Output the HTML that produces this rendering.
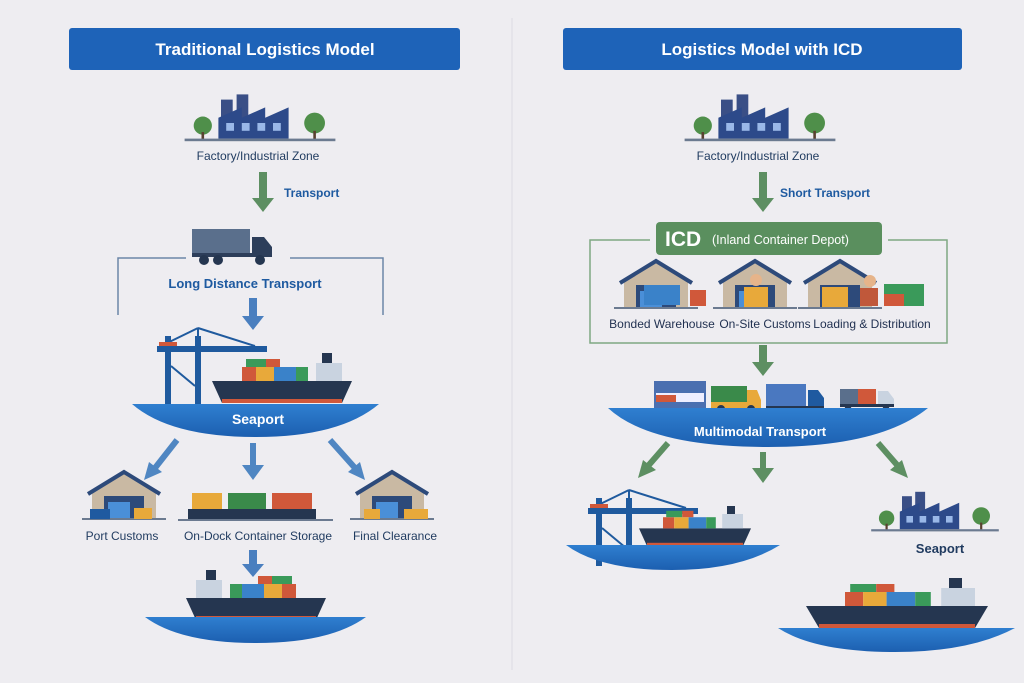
<!DOCTYPE html>
<html><head><meta charset="utf-8"><style>
html,body{margin:0;padding:0;background:#eeedf1;}
svg{display:block}
text{font-family:"Liberation Sans",sans-serif;}
</style></head><body>
<svg width="1024" height="683" viewBox="0 0 1024 683" xmlns="http://www.w3.org/2000/svg">
<defs>
<linearGradient id="wat" x1="0" y1="0" x2="0" y2="1"><stop offset="0" stop-color="#2f7fd0"/><stop offset="1" stop-color="#1c5fb0"/></linearGradient>
<g id="factory">
 <rect x="-30" y="-28" width="9" height="26" fill="#3a4f86"/>
 <rect x="-18" y="-32" width="9" height="30" fill="#3a4f86"/>
 <path d="M-32 2 V-14 L-14 -22 V-14 L4 -22 V-14 L22 -22 V2 Z" fill="#2d4a8a"/>
 <rect x="-26" y="-10" width="6" height="6" fill="#9ab8e8"/><rect x="-14" y="-10" width="6" height="6" fill="#9ab8e8"/><rect x="-2" y="-10" width="6" height="6" fill="#9ab8e8"/><rect x="10" y="-10" width="6" height="6" fill="#9ab8e8"/>
 <circle cx="-44" cy="-8" r="7" fill="#4f8f4a"/><rect x="-45" y="-3" width="2" height="6" fill="#5a4030"/>
 <circle cx="42" cy="-10" r="8" fill="#4f8f4a"/><rect x="41" y="-4" width="2" height="7" fill="#5a4030"/>
 <rect x="-58" y="2" width="116" height="2" fill="#6b7a90"/>
</g>
<g id="wh">
 <path d="M-32 -16 L0 -34 L32 -16 V10 H-32 Z" fill="#c9b9a3"/>
 <path d="M-36 -14 L0 -36 L36 -14" fill="none" stroke="#2d4a7a" stroke-width="4"/>
 <rect x="-20" y="-12" width="40" height="22" fill="#2d4a7a"/>
 <rect x="-16" y="-6" width="22" height="16" fill="#4a8fd8"/>
 <rect x="-42" y="10" width="84" height="2" fill="#6b7a90"/>
</g>
<g id="ship">
 <path d="M-70 -12 H70 L60 10 H-60 Z" fill="#253650"/>
 <rect x="-60" y="6" width="120" height="4" fill="#d0583a"/>
 <rect x="-40" y="-26" width="14" height="14" fill="#d0583a"/><rect x="-26" y="-26" width="18" height="14" fill="#e8a93a"/><rect x="-8" y="-26" width="22" height="14" fill="#3a82c9"/><rect x="14" y="-26" width="12" height="14" fill="#3a9a5a"/>
 <rect x="-36" y="-34" width="20" height="8" fill="#3a9a5a"/><rect x="-16" y="-34" width="14" height="8" fill="#d0583a"/>
 <rect x="34" y="-30" width="26" height="18" fill="#c9d3e0"/><rect x="40" y="-40" width="10" height="10" fill="#253650"/>
</g>
<g id="crane">
 <rect x="0" y="0" width="6" height="68" fill="#1f5a9e"/><rect x="30" y="0" width="6" height="68" fill="#1f5a9e"/>
 <rect x="-8" y="10" width="110" height="6" fill="#1f5a9e"/>
 <path d="M33 10 L33 -8 M33 -8 L-4 10 M33 -8 L90 10" stroke="#1f5a9e" stroke-width="2" fill="none"/>
 <line x1="6" y1="30" x2="30" y2="50" stroke="#1f5a9e" stroke-width="2"/>
 <rect x="-6" y="6" width="18" height="4" fill="#d0583a"/>
</g>
<g id="truck">
 <rect x="0" y="0" width="40" height="22" fill="#4a78c0"/>
 <path d="M42 6 H52 L58 14 V22 H42 Z" fill="#1f5aa0"/>
 <rect x="0" y="22" width="58" height="4" fill="#253650"/>
 <circle cx="10" cy="28" r="4" fill="#253650"/><circle cx="46" cy="28" r="4" fill="#253650"/>
</g>
</defs>

<line x1="512" y1="18" x2="512" y2="670" stroke="#dcdbe2" stroke-width="1"/>

<rect x="69" y="28" width="391" height="42" rx="3" fill="#1e63b8"/>
<text x="265" y="55" text-anchor="middle" fill="#fff" font-size="17" font-weight="bold">Traditional Logistics Model</text>
<rect x="563" y="28" width="399" height="42" rx="3" fill="#1e63b8"/>
<text x="762" y="55" text-anchor="middle" fill="#fff" font-size="17" font-weight="bold">Logistics Model with ICD</text>

<!-- LEFT -->
<g transform="translate(260,136) scale(1.3)"><use href="#factory"/></g>
<text x="258" y="160" text-anchor="middle" fill="#1f3a5f" font-size="12">Factory/Industrial Zone</text>
<path d="M259 172 H267 V198 H274 L263 212 L252 198 H259 Z" fill="#5d8f62"/>
<text x="284" y="197" fill="#1e5aa0" font-size="12" font-weight="bold">Transport</text>
<g transform="translate(192,229)"><rect x="0" y="0" width="58" height="24" fill="#5a6f8c"/><path d="M60 8 H72 L80 18 V28 H60 Z" fill="#2d3e5a"/><rect x="0" y="24" width="80" height="4" fill="#2d3e5a"/><circle cx="12" cy="31" r="5" fill="#253650"/><circle cx="26" cy="31" r="5" fill="#253650"/><circle cx="68" cy="31" r="5" fill="#253650"/></g>
<path d="M118 315 V258 H186 M290 258 H383 V315" fill="none" stroke="#6b86a8" stroke-width="1.5"/>
<text x="245" y="288" text-anchor="middle" fill="#1e5aa0" font-size="13" font-weight="bold">Long Distance Transport</text>
<path d="M249 298 H257 V316 H264 L253 330 L242 316 H249 Z" fill="#4a7fbf"/>
<use href="#crane" x="165" y="336"/>
<use href="#ship" x="282" y="393"/>
<path d="M132 404 H379 Q340 437 256 437 Q170 437 132 404 Z" fill="url(#wat)"/>
<text x="258" y="424" text-anchor="middle" fill="#fff" font-size="14" font-weight="bold">Seaport</text>
<g stroke="#4f86c2" stroke-width="6" fill="none"><line x1="177" y1="440" x2="155" y2="468"/><line x1="253" y1="443" x2="253" y2="468"/><line x1="330" y1="440" x2="355" y2="468"/></g>
<g fill="#4f86c2"><path d="M144 480 L149 462 L162 472 Z"/><path d="M242 465 H264 L253 480 Z"/><path d="M365 480 L348 472 L360 462 Z"/></g>
<use href="#wh" x="124" y="508"/>
<rect x="90" y="509" width="20" height="10" fill="#1f5aa0"/><rect x="134" y="508" width="18" height="11" fill="#e8a93a"/>
<g transform="translate(178,493)"><rect x="14" y="0" width="30" height="16" fill="#e8a93a"/><rect x="50" y="0" width="38" height="16" fill="#3a8a4a"/><rect x="94" y="0" width="40" height="16" fill="#d0583a"/><rect x="10" y="16" width="128" height="10" fill="#253650"/><rect x="0" y="26" width="155" height="2" fill="#6b7a90"/></g>
<use href="#wh" x="392" y="508"/>
<rect x="364" y="509" width="16" height="10" fill="#e8a93a"/><rect x="404" y="509" width="24" height="10" fill="#e8a93a"/>
<g fill="#1f3a5f" font-size="12" text-anchor="middle"><text x="122" y="540">Port Customs</text><text x="258" y="540">On-Dock Container Storage</text><text x="395" y="540">Final Clearance</text></g>
<path d="M249 550 H257 V564 H264 L253 577 L242 564 H249 Z" fill="#4a7fbf"/>
<g transform="translate(256,610) scale(-1,1)"><use href="#ship"/></g>
<path d="M145 617 H366 Q330 643 256 643 Q180 643 145 617 Z" fill="url(#wat)"/>

<!-- RIGHT -->
<g transform="translate(760,136) scale(1.3)"><use href="#factory"/></g>
<text x="758" y="160" text-anchor="middle" fill="#1f3a5f" font-size="12">Factory/Industrial Zone</text>
<path d="M759 172 H767 V198 H774 L763 212 L752 198 H759 Z" fill="#5d8f62"/>
<text x="780" y="197" fill="#1e5aa0" font-size="12" font-weight="bold">Short Transport</text>
<path d="M650 240 H590 V343 H947 V240 H888" fill="none" stroke="#7fa883" stroke-width="1.5"/>
<rect x="656" y="222" width="226" height="33" rx="4" fill="#5a8f5e"/>
<text x="665" y="246" fill="#fff" font-size="21" font-weight="bold">ICD</text>
<text x="712" y="244" fill="#fff" font-size="12.5">(Inland Container Depot)</text>
<g transform="translate(656,297)"><use href="#wh"/></g>
<rect x="644" y="285" width="36" height="20" fill="#3a82c9"/><rect x="690" y="290" width="16" height="16" fill="#d0583a"/>
<g transform="translate(755,297)"><use href="#wh"/></g>
<rect x="744" y="287" width="24" height="20" fill="#e8a93a"/><circle cx="756" cy="280" r="6" fill="#e6b48a"/>
<g transform="translate(840,297)"><use href="#wh"/></g>
<rect x="822" y="287" width="26" height="20" fill="#e8a93a"/><rect x="860" y="288" width="18" height="18" fill="#c0583a"/><circle cx="870" cy="281" r="6" fill="#e6b48a"/>
<rect x="884" y="284" width="40" height="22" fill="#3a9a5a"/><rect x="884" y="294" width="20" height="12" fill="#d0583a"/>
<g fill="#1f2f4f" font-size="12" text-anchor="middle"><text x="662" y="328">Bonded Warehouse</text><text x="765" y="328">On-Site Customs</text><text x="872" y="328">Loading &amp; Distribution</text></g>
<path d="M759 345 H767 V362 H774 L763 376 L752 362 H759 Z" fill="#5d8f62"/>
<rect x="654" y="381" width="52" height="27" fill="#4a6fb0"/><rect x="656" y="393" width="48" height="9" fill="#eef" /><rect x="656" y="395" width="20" height="7" fill="#d0583a"/>
<g transform="translate(711,386)"><rect x="0" y="0" width="36" height="16" fill="#3a8a4a"/><path d="M36 4 H46 L50 14 V22 H36 Z" fill="#e8a93a"/><rect x="0" y="16" width="50" height="6" fill="#e8a93a"/><circle cx="10" cy="23" r="4" fill="#253650"/><circle cx="40" cy="23" r="4" fill="#253650"/></g>
<use href="#truck" x="766" y="384"/>
<g transform="translate(840,389)"><rect x="0" y="0" width="36" height="15" fill="#5a6f8c"/><rect x="18" y="0" width="18" height="15" fill="#d0583a"/><path d="M38 2 H48 L54 10 V17 H38 Z" fill="#c9d3e0"/><rect x="0" y="15" width="54" height="3" fill="#253650"/><circle cx="8" cy="20" r="3.5" fill="#253650"/><circle cx="46" cy="20" r="3.5" fill="#253650"/></g>
<path d="M608 408 H928 Q880 447 768 447 Q650 447 608 408 Z" fill="url(#wat)"/>
<text x="760" y="436" text-anchor="middle" fill="#fff" font-size="13" font-weight="bold">Multimodal Transport</text>
<g stroke="#5d8f62" stroke-width="6" fill="none"><line x1="668" y1="443" x2="648" y2="466"/><line x1="763" y1="452" x2="763" y2="470"/><line x1="878" y1="443" x2="898" y2="466"/></g>
<g fill="#5d8f62"><path d="M638 478 L643 460 L656 470 Z"/><path d="M752 468 H774 L763 483 Z"/><path d="M908 478 L890 470 L902 460 Z"/></g>
<use href="#crane" x="596" y="498"/>
<g transform="translate(695,538) scale(0.8)"><use href="#ship"/></g>
<path d="M566 545 H780 Q740 570 672 570 Q600 570 566 545 Z" fill="url(#wat)"/>
<g transform="translate(935,527) scale(1.1)"><use href="#factory"/></g>
<text x="940" y="553" text-anchor="middle" fill="#1f3a5f" font-size="13" font-weight="bold">Seaport</text>
<g transform="translate(897,618) scale(1.3,1)"><use href="#ship"/></g>
<path d="M778 628 H1015 Q970 652 895 652 Q815 652 778 628 Z" fill="url(#wat)"/>
</svg>
</body></html>
